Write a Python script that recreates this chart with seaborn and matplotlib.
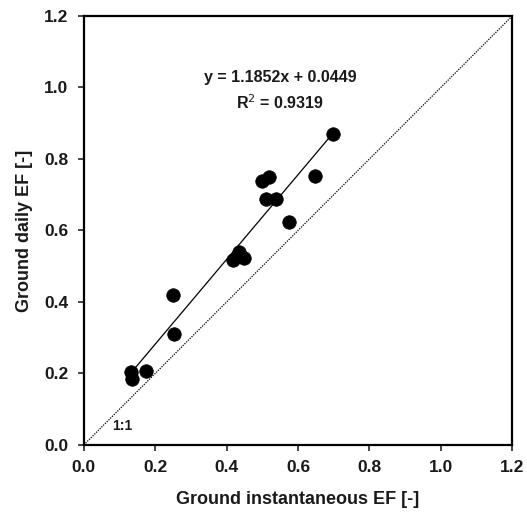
import pandas as pd
import numpy as np
import matplotlib
matplotlib.use('Agg')
import matplotlib.pyplot as plt
import seaborn as sns

# values
inst_ef = [0.698, 0.648, 0.519, 0.498, 0.509, 0.537, 0.574, 0.436, 0.417, 0.449,
           0.250, 0.253, 0.131, 0.134, 0.174]
daily_ef = [0.870, 0.752, 0.750, 0.737, 0.687, 0.687, 0.623, 0.539, 0.517, 0.523,
            0.420, 0.310, 0.205, 0.184, 0.207]
slope = 1.1852
intercept = 0.0449
r2 = 0.9319
one_to_one = [0.0, 1.2]
ticks = [0.0, 0.2, 0.4, 0.6, 0.8, 1.0, 1.2]

df = pd.DataFrame({'inst': inst_ef, 'daily': daily_ef})

sns.set_style('ticks')
plt.rcParams['font.family'] = ['Liberation Sans', 'DejaVu Sans']

fig = plt.figure(figsize=(5.27, 5.15), dpi=100)
ax = fig.add_axes([0.159, 0.136, 0.813, 0.833])

# 1:1 line
sns.lineplot(x=one_to_one, y=one_to_one, ax=ax, color='black', lw=0.9,
             linestyle=(0, (1, 1.0)))

# regression line over the data range
fit_x = [min(inst_ef), max(inst_ef)]
fit_y = [slope * v + intercept for v in fit_x]
sns.lineplot(x=fit_x, y=fit_y, ax=ax, color='black', lw=0.9)

sns.scatterplot(data=df, x='inst', y='daily', ax=ax, color='black', s=95,
                edgecolor='black', linewidth=0.5, zorder=3)

ax.set_xlim(0, 1.2)
ax.set_ylim(0, 1.2)
ax.set_xticks(ticks)
ax.set_yticks(ticks)
ax.set_xticklabels([f'{t:.1f}' for t in ticks], fontweight='bold', fontsize=12.5, color='#1a1a1a')
ax.set_yticklabels([f'{t:.1f}' for t in ticks], fontweight='bold', fontsize=12.5, color='#1a1a1a')
ax.tick_params(direction='out', length=4, width=1.2, pad=7)

for s in ax.spines.values():
    s.set_visible(True)
    s.set_linewidth(1.6)
    s.set_color('black')

ax.set_xlabel('Ground instantaneous EF [-]', fontsize=13, fontweight='bold', labelpad=11, color='#1a1a1a')
ax.set_ylabel('Ground daily EF [-]', fontsize=13, fontweight='bold', labelpad=8, color='#1a1a1a')

ax.text(0.55, 1.028, f'y = {slope}x + {intercept}', ha='center', va='center',
        fontsize=11.5, fontweight='bold', color='#1a1a1a')
ax.text(0.55, 0.958, f'R$^2$ = {r2}', ha='center', va='center',
        fontsize=11.5, fontweight='bold', color='#1a1a1a')
ax.text(0.079, 0.053, '1:1', ha='left', va='center', fontsize=10, fontweight='bold', color='#1a1a1a')

plt.savefig('out.png', dpi=100)
